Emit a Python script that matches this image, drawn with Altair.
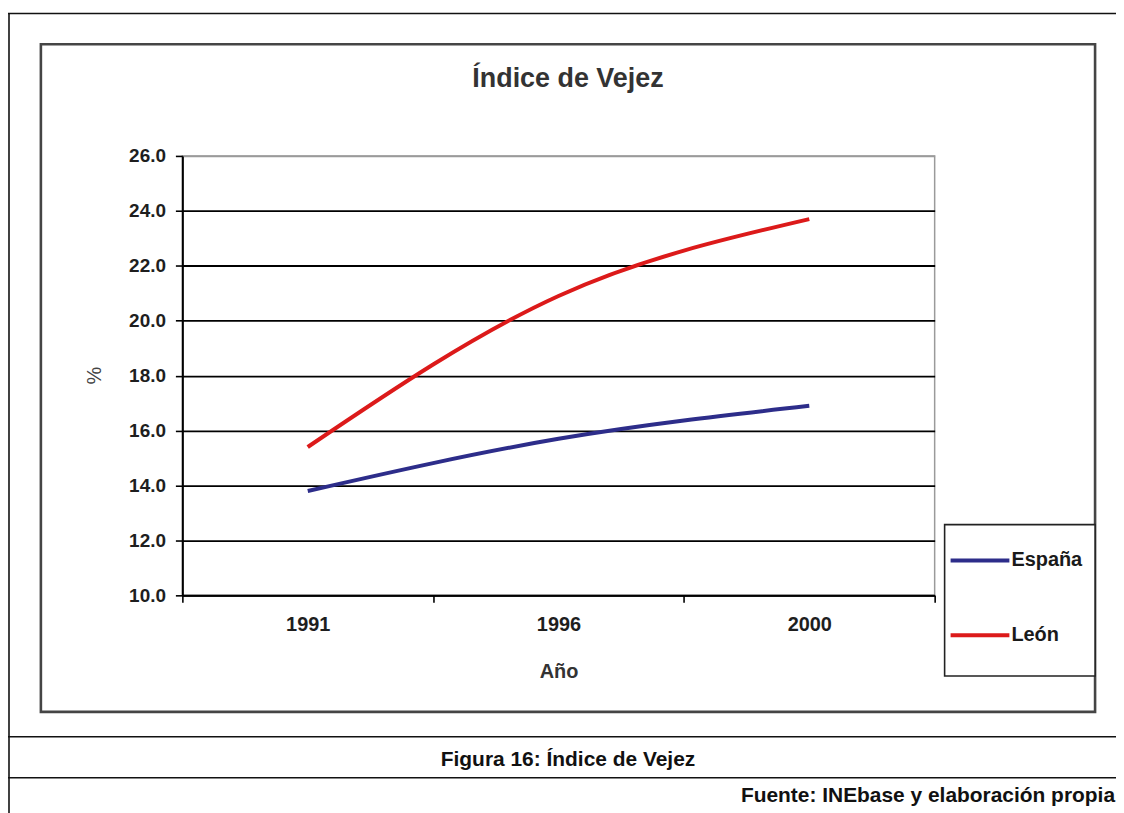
import altair as alt
import pandas as pd

# ---- data ----
years = ["1991", "1996", "2000"]
series_names = ["España", "León"]
espana = [13.8, 15.7, 16.9]
leon = [15.4, 20.9, 23.7]
series_colors = ["#2d2d8a", "#dc1a1a"]
y_ticks = [10, 12, 14, 16, 18, 20, 22, 24, 26]

chart_title = "Índice de Vejez"
x_title = "Año"
y_title = "%"
caption = "Figura 16: Índice de Vejez"
source = "Fuente: INEbase y elaboración propia"

rows = []
for name, vals in zip(series_names, [espana, leon]):
    for yr, v in zip(years, vals):
        rows.append({"Año": yr, "Serie": name, "valor": v})
df = pd.DataFrame(rows)

FONT = "Liberation Sans"
W, H = 755, 441
one = pd.DataFrame({"k": [0]})


def hrule(y, x1, x2, color="#111", w=1.6):
    return alt.Chart(one).mark_rule(color=color, strokeWidth=w).encode(
        x=alt.value(x1), x2=alt.value(x2), y=alt.value(y))


def vrule(x, y1, y2, color="#111", w=1.6):
    return alt.Chart(one).mark_rule(color=color, strokeWidth=w).encode(
        x=alt.value(x), y=alt.value(y1), y2=alt.value(y2))


def label(txt, x, y, size, align="center", color="#111", weight="bold", baseline="alphabetic"):
    return alt.Chart(one).mark_text(
        text=txt, font=FONT, fontSize=size, fontWeight=weight, color=color,
        align=align, baseline=baseline).encode(x=alt.value(x), y=alt.value(y))


# page frame (table-like) around the figure
frame = [
    vrule(-174, -143, 670),
    hrule(-143, -176, 945),
    hrule(583, -176, 945),
    hrule(624, -176, 945),
]

# inner chart box
chart_box = alt.Chart(one).mark_rect(
    fillOpacity=0, stroke="#454545", strokeWidth=2.6).encode(
    x=alt.value(-142), x2=alt.value(916), y=alt.value(-112), y2=alt.value(558))

texts = [
    label(chart_title, 387, -69, 27, color="#333333"),
    label(caption, 387, 612, 21, color="#111111"),
    label(source, 936, 648, 21, align="right", color="#111111"),
]

lines = alt.Chart(df).mark_line(strokeWidth=4, interpolate="monotone").encode(
    x=alt.X("Año:N", sort=years,
            scale=alt.Scale(type="band", paddingInner=0, paddingOuter=0),
            axis=alt.Axis(title=x_title, labelAngle=0, tickBand="extent",
                          titleY=82, titleBaseline="alphabetic")),
    y=alt.Y("valor:Q",
            scale=alt.Scale(domain=[10, 26], nice=False, zero=False),
            axis=alt.Axis(title=y_title, values=y_ticks, format=".1f",
                          titleX=-88, titleY=220, titleAngle=270,
                          titleBaseline="middle", titleAlign="center",
                          gridColor={"condition": {"test": "datum.value == 26", "value": "#9a9a9a"},
                                     "value": "#000000"})),
    color=alt.Color("Serie:N", sort=series_names,
                    scale=alt.Scale(domain=series_names, range=series_colors),
                    legend=None),
)

# legend box drawn at the right edge of the chart box
legend_box = alt.Chart(one).mark_rect(
    fill="white", stroke="#222", strokeWidth=1.6).encode(
    x=alt.value(765), x2=alt.value(916), y=alt.value(370), y2=alt.value(522))
legend_items = []
for i, (name, col) in enumerate(zip(series_names, series_colors)):
    yy = 406 + i * 75
    legend_items.append(hrule(yy, 771, 830, color=col, w=4))
    legend_items.append(label(name, 832, yy, 20, align="left", baseline="middle", color="#1a1a1a"))

chart = alt.layer(
    *frame, chart_box, *texts, lines, legend_box, *legend_items
).properties(
    width=W, height=H,
    autosize=alt.AutoSizeParams(type="none"),
    padding={"left": 175, "top": 147, "right": 182, "bottom": 217},
    background="white",
).configure_view(
    stroke="#9a9a9a", strokeWidth=1.5
).configure_axis(
    labelFont=FONT, titleFont=FONT, labelColor="#1e1e1e", titleColor="#333333",
    domainColor="#000000", domainWidth=2, tickColor="#000000", tickWidth=1.6,
    tickSize=7, gridWidth=1.8,
).configure_axisX(
    grid=False, labelFontSize=20, labelFontWeight="bold", labelPadding=12,
    titleFontSize=20, titleFontWeight="bold",
).configure_axisY(
    grid=True, labelFontSize=19, labelFontWeight="bold", labelPadding=10,
    titleFontSize=20, titleFontWeight="normal", titleColor="#444444",
)

chart.save("out.html", embed_options={"renderer": "svg", "actions": False})
